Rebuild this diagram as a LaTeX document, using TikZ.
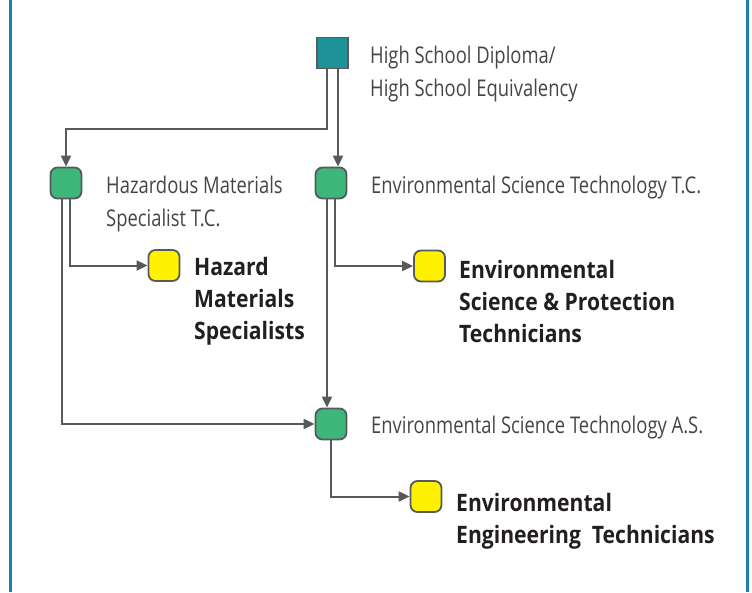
\documentclass[tikz,border=0pt]{standalone}
\usepackage{fontspec}
\usetikzlibrary{arrows.meta}
\setmainfont{Open Sans}
\newfontfamily\lightf[FakeStretch=0.80]{Open Sans}
\newfontfamily\boldf[FakeStretch=0.88]{Open Sans}
\definecolor{linegray}{HTML}{58595B}
\definecolor{boxgreen}{HTML}{3DB779}
\definecolor{boxyellow}{HTML}{FFF100}
\definecolor{boxteal}{HTML}{1E9199}
\definecolor{framecol}{HTML}{1C7FA6}
\definecolor{labgray}{HTML}{454545}
\definecolor{outblack}{HTML}{231F20}
\begin{document}
\begin{tikzpicture}[x=1pt,y=-1pt,
  box/.style={draw=linegray, line width=1.8pt, rounded corners=7pt, minimum size=31pt, inner sep=0pt},
  gbox/.style={box, fill=boxgreen},
  ybox/.style={box, fill=boxyellow},
  tbox/.style={draw=linegray, line width=1.8pt, fill=boxteal, minimum size=31pt, inner sep=0pt},
  conn/.style={draw=linegray, line width=2pt},
  arr/.style={conn, -{Triangle[length=11pt,width=10pt]}},
  lab/.style={anchor=west, align=left, inner sep=0pt, text=labgray, font=\lightf\fontsize{23}{33}\selectfont},
  outlab/.style={anchor=west, align=left, inner sep=0pt, text=outblack, font=\boldf\bfseries\fontsize{24}{32}\selectfont},
  frameline/.style={draw=framecol, line width=2.8pt}]
\useasboundingbox (0,0) rectangle (752,592);
\draw[frameline] (10.5,0) -- (10.5,592);
\draw[frameline] (747.3,0) -- (747.3,592);
% boxes
\node[tbox] (top) at (332.5,53) {};
\node[gbox] (L) at (66,183) {};
\node[gbox] (M) at (331,183) {};
\node[gbox] (B) at (331,424) {};
\node[ybox] (YL) at (164,265.5) {};
\node[ybox] (YM) at (429.5,266) {};
\node[ybox] (YB) at (426,496.5) {};
% labels
\node[lab] (tTop) at (370,74) {High School Diploma/\\High School Equivalency};
\node[lab] (tL) at (106,204) {Hazardous Materials\\Specialist T.C.};
\node[lab] (tM) at (371,188) {Environmental Science Technology T.C.};
\node[lab] (tB) at (371,428) {Environmental Science Technology A.S.};
\node[outlab] (oL) at (194,301) {Hazard\\Materials\\Specialists};
\node[outlab] (oM) at (459,301) {Environmental\\Science \& Protection\\Technicians};
\node[outlab] (oB) at (456,521) {Environmental\\Engineering\ \ Technicians};
% connectors
\coordinate (bend1) at (66,129);
\draw[arr] ([xshift=-5.5pt]top.south) |- (bend1) -- (L.north);
\draw[arr] ([xshift=5.5pt]top.south) -- ([xshift=5.5pt]top.south |- M.north);
\draw[arr] ([xshift=4pt]L.south) |- (YL.west);
\draw[arr] ([xshift=-4pt]L.south) |- (B.west);
\draw[arr] ([xshift=4pt]M.south) |- (YM.west);
\draw[arr] ([xshift=-4pt]M.south) -- ([xshift=-4pt]B.north);
\draw[arr] (B.south) |- (YB.west);
\end{tikzpicture}
\end{document}
